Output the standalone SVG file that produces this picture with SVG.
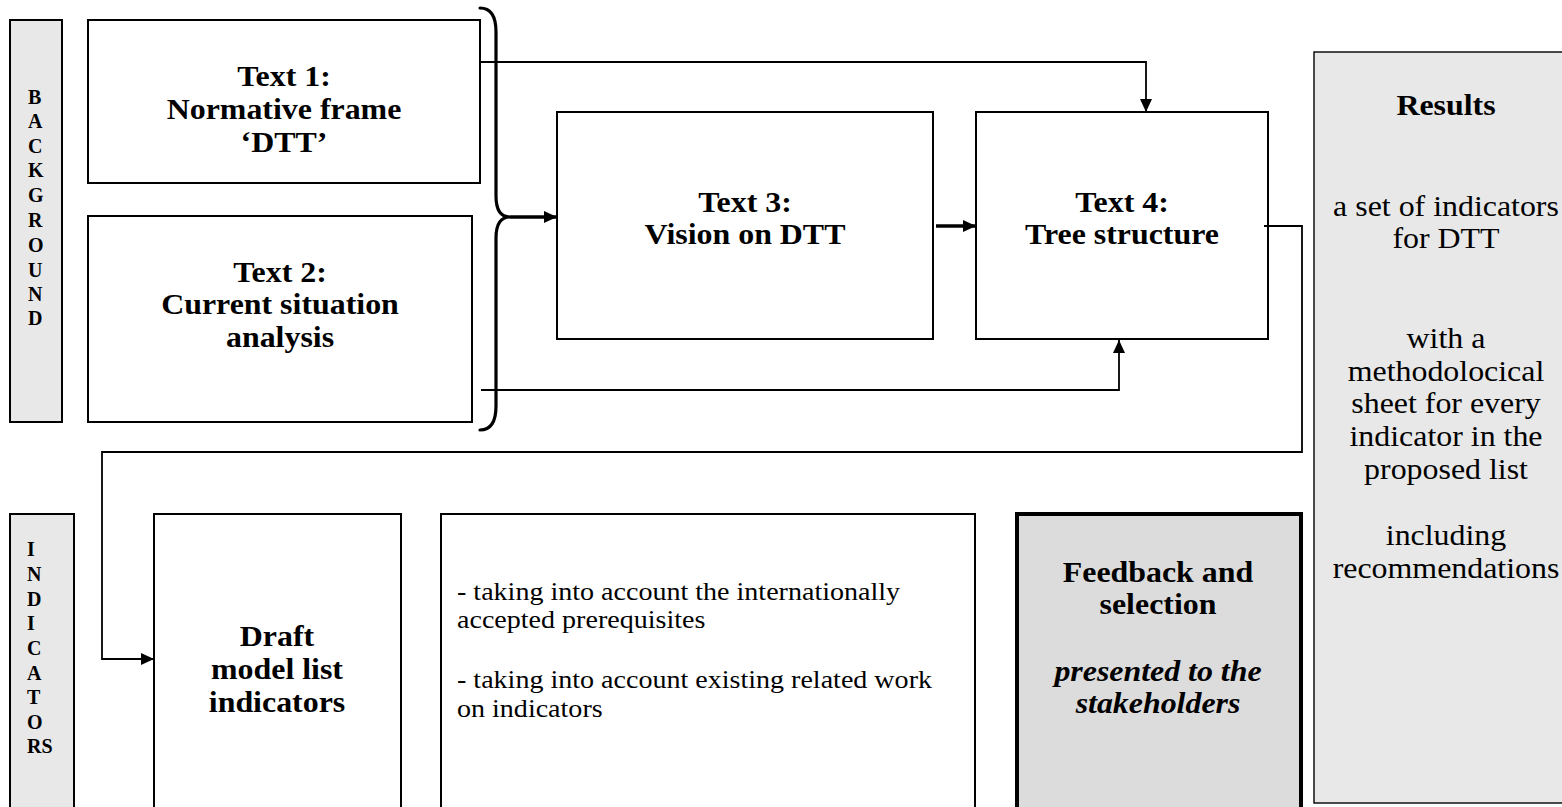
<svg xmlns="http://www.w3.org/2000/svg" width="1562" height="807" viewBox="0 0 1562 807">
<defs>
<style>
.box{fill:#fff;stroke:#000;stroke-width:2}
.bar{fill:#e8e8e8;stroke:#000;stroke-width:2}
.res{fill:#e8e8e8;stroke:#000;stroke-width:1.4}
.fb{fill:#dcdcdc;stroke:#000;stroke-width:4}
.ln{fill:none;stroke:#000;stroke-width:1.8}
.thick{fill:none;stroke:#000;stroke-width:3.5}
.brace{fill:none;stroke:#000;stroke-width:3.2;stroke-linecap:round}
text{font-family:"Liberation Serif","Times New Roman",serif;fill:#000}
.tb{font-size:29px;font-weight:bold;text-anchor:middle}
.tr{font-size:29px;text-anchor:middle}
.tm{font-size:25.5px}
.ti{font-size:29px;font-weight:bold;font-style:italic;text-anchor:middle}
.lt{font-size:20px;font-weight:bold}
</style>
<marker id="ah" markerUnits="userSpaceOnUse" markerWidth="13" markerHeight="12" refX="13" refY="6" orient="auto" viewBox="0 0 13 12"><path d="M0,0 L13,6 L0,12 z" fill="#000"/></marker>
</defs>

<g id="background-bar">
<rect class="bar" x="10" y="20" width="52" height="402"/>
<text class="lt"><tspan x="28" y="104">B</tspan><tspan x="28" y="128">A</tspan><tspan x="28" y="153">C</tspan><tspan x="28" y="177">K</tspan><tspan x="28" y="202">G</tspan><tspan x="28" y="227">R</tspan><tspan x="28" y="252">O</tspan><tspan x="28" y="277">U</tspan><tspan x="28" y="301">N</tspan><tspan x="28" y="325">D</tspan></text>
</g>

<g id="text1">
<rect class="box" x="88" y="20" width="392" height="163"/>
<text class="tb" transform="translate(284 0) scale(1.1 1)"><tspan x="0" y="86">Text 1:</tspan><tspan x="0" y="119">Normative frame</tspan><tspan x="0" y="152">‘DTT’</tspan></text>
</g>

<g id="text2">
<rect class="box" x="88" y="216" width="384" height="206"/>
<text class="tb" transform="translate(280 0) scale(1.1 1)"><tspan x="0" y="282">Text 2:</tspan><tspan x="0" y="314">Current situation</tspan><tspan x="0" y="347">analysis</tspan></text>
</g>

<g id="brace">
<path class="brace" d="M480,8 Q496,8 496,32 L496,196 Q496,217 510,217 Q496,217 496,238 L496,406 Q496,430 480,430"/>
</g>

<g id="text3">
<rect class="box" x="557" y="112" width="376" height="227"/>
<text class="tb" transform="translate(745 0) scale(1.1 1)"><tspan x="0" y="212">Text 3:</tspan><tspan x="0" y="244">Vision on DTT</tspan></text>
</g>

<g id="text4">
<rect class="box" x="976" y="112" width="292" height="227"/>
<text class="tb" transform="translate(1122 0) scale(1.1 1)"><tspan x="0" y="212">Text 4:</tspan><tspan x="0" y="244">Tree structure</tspan></text>
</g>

<g id="results">
<rect class="res" x="1314" y="52" width="260" height="751"/>
<text class="tb" transform="translate(1446 0) scale(1.1 1)"><tspan x="0" y="115">Results</tspan></text>
<text class="tr" transform="translate(1446 0) scale(1.1 1)"><tspan x="0" y="216">a set of indicators</tspan><tspan x="0" y="248">for DTT</tspan><tspan x="0" y="348">with a</tspan><tspan x="0" y="381">methodolocical</tspan><tspan x="0" y="413">sheet for every</tspan><tspan x="0" y="446">indicator in the</tspan><tspan x="0" y="479">proposed  list</tspan><tspan x="0" y="545">including</tspan><tspan x="0" y="578">recommendations</tspan></text>
</g>

<g id="indicators-bar">
<rect class="bar" x="10" y="514" width="64" height="310"/>
<text class="lt"><tspan x="27" y="556">I</tspan><tspan x="27" y="581">N</tspan><tspan x="27" y="606">D</tspan><tspan x="27" y="630">I</tspan><tspan x="27" y="655">C</tspan><tspan x="27" y="680">A</tspan><tspan x="27" y="704">T</tspan><tspan x="27" y="729">O</tspan><tspan x="27" y="753">RS</tspan></text>
</g>

<g id="draft">
<rect class="box" x="154" y="514" width="247" height="310"/>
<text class="tb" transform="translate(277 0) scale(1.1 1)"><tspan x="0" y="646">Draft</tspan><tspan x="0" y="679">model list</tspan><tspan x="0" y="712">indicators</tspan></text>
</g>

<g id="criteria">
<rect class="box" x="441" y="514" width="534" height="310"/>
<text class="tm" transform="translate(457 0) scale(1.1 1)"><tspan x="0" y="600">- taking into account the internationally</tspan><tspan x="0" y="628">accepted prerequisites</tspan><tspan x="0" y="688">- taking into account existing related work</tspan><tspan x="0" y="717">on indicators</tspan></text>
</g>

<g id="feedback">
<rect class="fb" x="1017" y="514" width="284" height="310"/>
<text class="tb" transform="translate(1158 0) scale(1.1 1)"><tspan x="0" y="582">Feedback  and</tspan><tspan x="0" y="614">selection</tspan></text>
<text class="ti" transform="translate(1158 0) scale(1.1 1)"><tspan x="0" y="681">presented to the</tspan><tspan x="0" y="713">stakeholders</tspan></text>
</g>

<g id="connectors">
<path class="ln" d="M480,62 H1146 V112" marker-end="url(#ah)"/>
<path class="ln" d="M481,390 H1119 V340" marker-end="url(#ah)"/>
<path class="thick" d="M510,217 H557" marker-end="url(#ah)"/>
<path class="thick" d="M936,226 H976" marker-end="url(#ah)"/>
<path class="ln" d="M1264,226 H1302 V452 H102 V659 H154" marker-end="url(#ah)"/>
</g>
</svg>
